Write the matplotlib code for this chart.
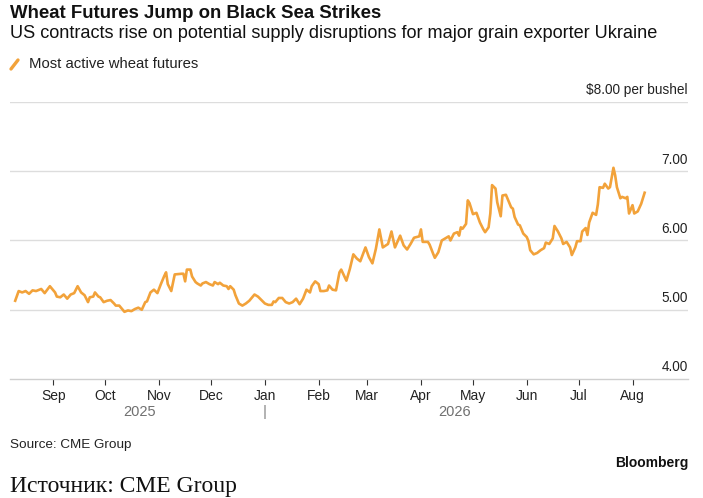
import numpy as np
import pandas as pd
import matplotlib
matplotlib.use('Agg')
import matplotlib.pyplot as plt
import matplotlib.dates as mdates
from matplotlib.lines import Line2D

# Most active wheat futures, $ per bushel
dates = [
    '2025-08-10', '2025-08-12', '2025-08-14', '2025-08-16', '2025-08-18', '2025-08-20',
    '2025-08-22', '2025-08-25', '2025-08-27', '2025-08-30',
    '2025-09-02', '2025-09-03', '2025-09-05', '2025-09-07', '2025-09-09', '2025-09-11',
    '2025-09-13', '2025-09-15', '2025-09-17', '2025-09-19', '2025-09-21', '2025-09-22',
    '2025-09-24', '2025-09-25', '2025-09-27', '2025-09-28', '2025-09-30',
    '2025-10-02', '2025-10-04', '2025-10-06', '2025-10-07', '2025-10-09', '2025-10-12',
    '2025-10-14', '2025-10-16', '2025-10-18', '2025-10-20', '2025-10-22', '2025-10-24',
    '2025-10-25', '2025-10-27', '2025-10-29', '2025-10-31',
    '2025-11-02', '2025-11-04', '2025-11-05', '2025-11-06', '2025-11-08', '2025-11-10',
    '2025-11-14', '2025-11-15', '2025-11-16', '2025-11-17', '2025-11-19', '2025-11-20',
    '2025-11-22', '2025-11-23', '2025-11-25', '2025-11-26', '2025-11-28', '2025-11-30',
    '2025-12-02', '2025-12-03', '2025-12-05', '2025-12-06', '2025-12-08', '2025-12-10',
    '2025-12-11', '2025-12-12', '2025-12-14', '2025-12-15', '2025-12-17', '2025-12-19',
    '2025-12-21', '2025-12-23', '2025-12-26', '2025-12-28', '2025-12-30',
    '2026-01-01', '2026-01-03', '2026-01-05', '2026-01-06', '2026-01-07', '2026-01-09',
    '2026-01-11', '2026-01-13', '2026-01-15', '2026-01-17', '2026-01-19', '2026-01-21',
    '2026-01-23', '2026-01-25', '2026-01-27', '2026-01-28', '2026-01-30',
    '2026-02-01', '2026-02-02', '2026-02-04', '2026-02-06', '2026-02-07', '2026-02-09',
    '2026-02-11', '2026-02-13', '2026-02-14', '2026-02-17', '2026-02-19', '2026-02-21',
    '2026-02-23', '2026-02-25', '2026-02-28',
    '2026-03-02', '2026-03-04', '2026-03-06', '2026-03-08', '2026-03-10', '2026-03-13',
    '2026-03-15', '2026-03-17', '2026-03-20', '2026-03-22', '2026-03-24', '2026-03-26',
    '2026-03-28', '2026-03-31',
    '2026-04-01', '2026-04-02', '2026-04-05', '2026-04-06', '2026-04-08', '2026-04-09',
    '2026-04-11', '2026-04-13', '2026-04-15', '2026-04-17', '2026-04-18', '2026-04-20',
    '2026-04-22', '2026-04-23', '2026-04-24', '2026-04-25', '2026-04-27', '2026-04-28',
    '2026-04-29',
    '2026-05-01', '2026-05-03', '2026-05-05', '2026-05-07', '2026-05-08', '2026-05-10',
    '2026-05-11', '2026-05-12', '2026-05-14', '2026-05-15', '2026-05-17', '2026-05-18',
    '2026-05-20', '2026-05-21', '2026-05-23', '2026-05-24', '2026-05-25', '2026-05-27',
    '2026-05-28', '2026-05-30',
    '2026-06-01', '2026-06-02', '2026-06-03', '2026-06-05', '2026-06-07', '2026-06-09',
    '2026-06-11', '2026-06-12', '2026-06-14', '2026-06-16', '2026-06-17', '2026-06-19',
    '2026-06-21', '2026-06-22', '2026-06-24', '2026-06-26', '2026-06-27', '2026-06-29',
    '2026-06-30',
    '2026-07-02', '2026-07-03', '2026-07-05', '2026-07-06', '2026-07-07', '2026-07-09',
    '2026-07-11', '2026-07-12', '2026-07-13', '2026-07-15', '2026-07-16', '2026-07-18',
    '2026-07-19', '2026-07-21', '2026-07-22', '2026-07-23', '2026-07-25', '2026-07-26',
    '2026-07-28', '2026-07-29', '2026-07-30',
    '2026-08-01', '2026-08-02', '2026-08-04', '2026-08-06', '2026-08-08',
]
prices = [
    5.13, 5.27, 5.25, 5.27, 5.23, 5.28, 5.27, 5.30, 5.24, 5.34,
    5.25, 5.19, 5.18, 5.22, 5.16, 5.22, 5.24, 5.34, 5.25, 5.21, 5.11, 5.18,
    5.19, 5.25, 5.19, 5.18, 5.11,
    5.13, 5.14, 5.09, 5.06, 5.06, 4.97, 4.99, 4.98, 5.01, 5.03, 5.00, 5.11,
    5.12, 5.25, 5.29, 5.24,
    5.37, 5.49, 5.54, 5.37, 5.27, 5.51, 5.52, 5.52, 5.41, 5.58, 5.58, 5.48,
    5.40, 5.38, 5.35, 5.38, 5.40, 5.37,
    5.35, 5.40, 5.37, 5.39, 5.35, 5.34, 5.30, 5.34, 5.29, 5.21, 5.09, 5.06,
    5.09, 5.13, 5.22, 5.19, 5.14,
    5.09, 5.07, 5.07, 5.12, 5.11, 5.17, 5.17, 5.11, 5.09, 5.11, 5.16, 5.08,
    5.16, 5.29, 5.25, 5.34, 5.41,
    5.37, 5.27, 5.27, 5.28, 5.35, 5.29, 5.28, 5.54, 5.58, 5.42, 5.59, 5.80,
    5.74, 5.70, 5.90,
    5.76, 5.67, 5.88, 6.16, 5.90, 5.95, 6.13, 5.90, 6.07, 5.93, 5.87, 5.95,
    6.04, 6.06,
    6.16, 5.98, 5.98, 5.94, 5.81, 5.75, 5.83, 6.00, 6.03, 6.06, 6.00, 6.10,
    6.12, 6.07, 6.19, 6.17, 6.24, 6.58, 6.54,
    6.38, 6.40, 6.26, 6.16, 6.12, 6.19, 6.39, 6.80, 6.75, 6.55, 6.35, 6.65,
    6.66, 6.60, 6.48, 6.46, 6.34, 6.23, 6.22, 6.10,
    6.05, 5.99, 5.86, 5.80, 5.82, 5.86, 5.89, 5.97, 5.95, 6.03, 6.21, 6.13,
    6.03, 5.95, 5.98, 5.90, 5.79, 5.90, 5.99,
    5.99, 6.13, 6.18, 6.08, 6.26, 6.40, 6.37, 6.52, 6.77, 6.76, 6.82, 6.75,
    6.77, 7.05, 6.94, 6.77, 6.61, 6.63, 6.61, 6.63, 6.39,
    6.51, 6.39, 6.42, 6.53, 6.69,
]

month_ticks = pd.date_range('2025-09-01', '2026-08-01', freq='MS')
price_ticks = [4.0, 5.0, 6.0, 7.0, 8.0]
years = ['2025', '2026']

W, H = 703, 498
plt.rcParams['font.family'] = ['Liberation Sans', 'DejaVu Sans']

fig = plt.figure(figsize=(W / 100, H / 100), dpi=100)


def px(x, y):
    return x / W, 1 - y / H


ax = fig.add_axes([10 / W, 1 - 379 / H, 678 / W, 277 / H])
d = pd.to_datetime(dates)
ax.plot(d, prices, color='#f2a23a', lw=1.9, solid_joinstyle='round', zorder=3)

start = mdates.date2num(pd.Timestamp('2025-09-01'))
ax.set_xlim(start - 25.0, start + 366.0)
ax.set_ylim(4, 8)

for v in price_ticks[1:]:
    ax.axhline(v, color='#dddddd', lw=1.0, zorder=1)
for s in ['top', 'left', 'right']:
    ax.spines[s].set_visible(False)
ax.spines['bottom'].set_color('#cfcfcf')
ax.spines['bottom'].set_linewidth(1.0)

ax.set_yticks([])
ax.set_xticks(month_ticks)
ax.set_xticklabels([m.strftime('%b') for m in month_ticks])
ax.tick_params(axis='x', length=4, width=0.8, color='#333333',
               labelsize=10, labelcolor='#222222', pad=3)

# price labels sit above the gridlines at the right edge
for i, v in enumerate(price_ticks):
    lab = f'${v:.2f} per bushel' if i == len(price_ticks) - 1 else f'{v:.2f}'
    ax.annotate(lab, xy=(1, v), xycoords=('axes fraction', 'data'),
                xytext=(0, 5.5), textcoords='offset points',
                ha='right', va='baseline', fontsize=9.8, color='#222222')

# year labels under the month labels
jan = pd.Timestamp('2026-01-01')
first, last = d[0], d[-1]
mids = [first + (jan - first) / 2, jan + (last - jan) / 2]
for yr, m in zip(years, mids):
    ax.annotate(yr, xy=(m, 0), xycoords=('data', 'axes fraction'),
                xytext=(0, -24), textcoords='offset points',
                ha='center', va='center', fontsize=10.5, color='#707070')
ax.annotate('|', xy=(jan, 0), xycoords=('data', 'axes fraction'),
            xytext=(0, -24), textcoords='offset points',
            ha='center', va='center', fontsize=11, color='#888888')

# header
fig.text(*px(10, 13), 'Wheat Futures Jump on Black Sea Strikes',
         fontsize=13.4, fontweight='bold', va='center', color='#111111')
fig.text(*px(10, 34), 'US contracts rise on potential supply disruptions for major grain exporter Ukraine',
         fontsize=13.1, va='center', color='#111111')
fig.add_artist(Line2D([11 / W, 18 / W], [1 - 69 / H, 1 - 60 / H],
                      color='#f2a23a', lw=2.4, solid_capstyle='round'))
fig.text(*px(29, 64), 'Most active wheat futures', fontsize=10.7,
         va='center', color='#222222')

# footer
fig.text(*px(10, 445), 'Source: CME Group', fontsize=9.7, va='center', color='#222222')
fig.text(*px(688, 463), 'Bloomberg', fontsize=10, fontweight='bold',
         ha='right', va='center', color='#111111')
fig.text(*px(10, 491.5), 'Источник: CME Group', fontsize=17,
         family=['Liberation Serif', 'DejaVu Serif'], va='baseline', color='#111111')

fig.savefig('out.png', dpi=100)
